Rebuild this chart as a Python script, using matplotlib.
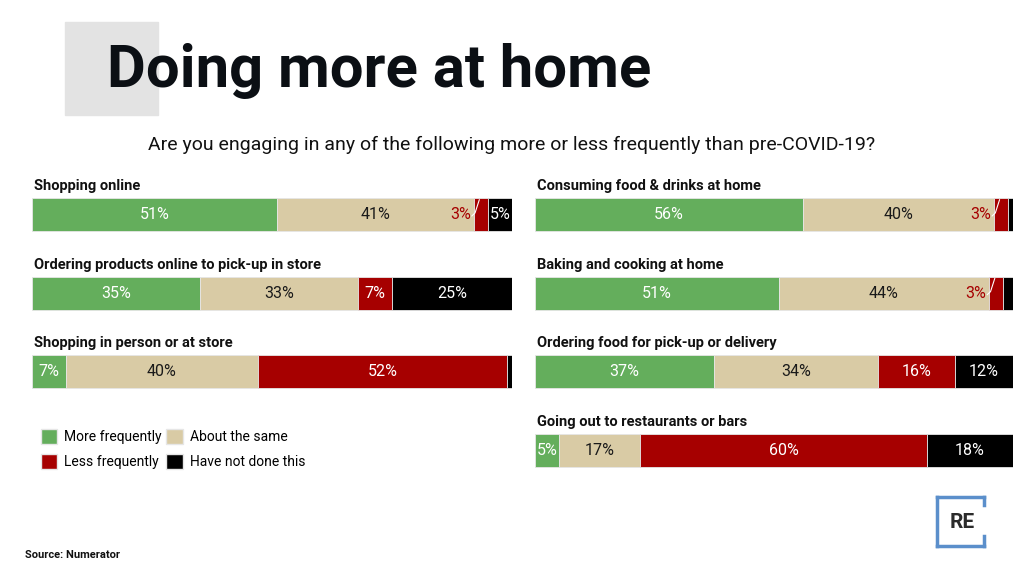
import matplotlib
matplotlib.use("Agg")
import matplotlib.pyplot as plt
from matplotlib.patches import Rectangle, Patch

# ---------------- data ----------------
SERIES = ["More frequently", "About the same", "Less frequently", "Have not done this"]
COLORS = ["#64ae5c", "#d9cba5", "#a60000", "#000000"]
TEXT_COLORS = ["white", "#1a1a1a", "white", "white"]

LEFT_ROWS = [
    "Shopping online",
    "Ordering products online to pick-up in store",
    "Shopping in person or at store",
]
LEFT_VALUES = [
    [51, 41, 3, 5],
    [35, 33, 7, 25],
    [7, 40, 52, 1],
]

RIGHT_ROWS = [
    "Consuming food & drinks at home",
    "Baking and cooking at home",
    "Ordering food for pick-up or delivery",
    "Going out to restaurants or bars",
]
RIGHT_VALUES = [
    [56, 40, 3, 1],
    [51, 44, 3, 2],
    [37, 34, 16, 12],
    [5, 17, 60, 18],
]

TITLE = "Doing more at home"
SUBTITLE = "Are you engaging in any of the following more or less frequently than pre-COVID-19?"
SOURCE = "Source: Numerator"

FONT = "Roboto"
W, H = 1024, 576


def px_box(x0, y0, x1, y1):
    # pixel box (top-left origin) -> figure fraction [l, b, w, h]
    return [x0 / W, 1 - y1 / H, (x1 - x0) / W, (y1 - y0) / H]


def draw_panel(ax, rows, values):
    bar_h = 0.42
    for i, (name, vals) in enumerate(zip(rows, values)):
        total = float(sum(vals))
        left = 0.0
        for j, v in enumerate(vals):
            w = v / total * 100
            ax.barh(i, w, left=left, height=bar_h, color=COLORS[j],
                    edgecolor="#e6e6e6", linewidth=0.6)
            if v >= 5:
                ax.text(left + w / 2, i, f"{v}%", ha="center", va="center",
                        color=TEXT_COLORS[j], fontsize=11.5, family=FONT)
            elif v >= 3:
                # small slice: label sits to the left with a leader line
                ax.text(left - 0.6, i, f"{v}%", ha="right", va="center",
                        color=COLORS[j], fontsize=11.5, family=FONT)
                ax.plot([left - 0.4, left + 0.3, left + 1.2],
                        [i + 0.02, i - 0.02, i - bar_h / 2 + 0.02],
                        color="white", lw=0.8, solid_capstyle="round")
            left += w
        ax.text(0.5, i - 0.31, name, ha="left", va="baseline",
                fontsize=10.5, fontweight="bold", family=FONT, color="#111111")
    ax.set_xlim(0, 100)
    ax.set_ylim(3.5, -0.5)
    ax.axis("off")


fig = plt.figure(figsize=(W / 100, H / 100), dpi=100)
fig.patch.set_facecolor("white")

# grey block behind the title
fig.patches.append(Rectangle((65 / W, 1 - 115 / H), 93 / W, 93 / H,
                             transform=fig.transFigure, color="#e3e3e3", zorder=0))
fig.text(107 / W, 1 - 71 / H, TITLE, ha="left", va="center", fontsize=43,
         fontweight="bold", family=FONT, color="#0b0f14", zorder=2)
fig.text(512 / W, 1 - 145 / H, SUBTITLE, ha="center", va="center",
         fontsize=14, family=FONT, color="#111111")

ax_l = fig.add_axes(px_box(32, 175.2, 512, 489.8))
ax_r = fig.add_axes(px_box(535, 175.2, 1013, 489.8))
draw_panel(ax_l, LEFT_ROWS, LEFT_VALUES)
draw_panel(ax_r, RIGHT_ROWS, RIGHT_VALUES)

handles = [Patch(facecolor=c, edgecolor="#e6e6e6") for c in COLORS]
order = [0, 2, 1, 3]
fig.legend([handles[k] for k in order], [SERIES[k] for k in order],
           loc="upper left", bbox_to_anchor=(28 / W, 1 - 416 / H), ncol=2,
           frameon=False, handlelength=1.2, handleheight=1.3,
           handletextpad=0.5, columnspacing=0.3, labelspacing=0.75,
           prop={"family": FONT, "size": 10})

fig.text(25 / W, 1 - 555 / H, SOURCE, ha="left", va="center", fontsize=8,
         fontweight="bold", family=FONT, color="#111111")

# RE logo bracket
blue = "#5b8fcb"
lx0, lx1, ly0, ly1 = 937, 984, 497, 546
segs = [
    ((lx0, ly0), (lx0, ly1)),
    ((lx0, ly0), (lx1, ly0)),
    ((lx0, ly1), (lx1, ly1)),
    ((lx1, ly0), (lx1, 505)),
    ((lx1, 536), (lx1, ly1)),
]
for (a, b) in segs:
    fig.add_artist(plt.Line2D([a[0] / W, b[0] / W], [1 - a[1] / H, 1 - b[1] / H],
                              transform=fig.transFigure, color=blue, lw=2.5,
                              solid_capstyle="projecting"))
fig.text(962 / W, 1 - 522 / H, "RE", ha="center", va="center", fontsize=15,
         fontweight="bold", family=FONT, color="#2b2b2b")

fig.savefig("out.png", dpi=100)
